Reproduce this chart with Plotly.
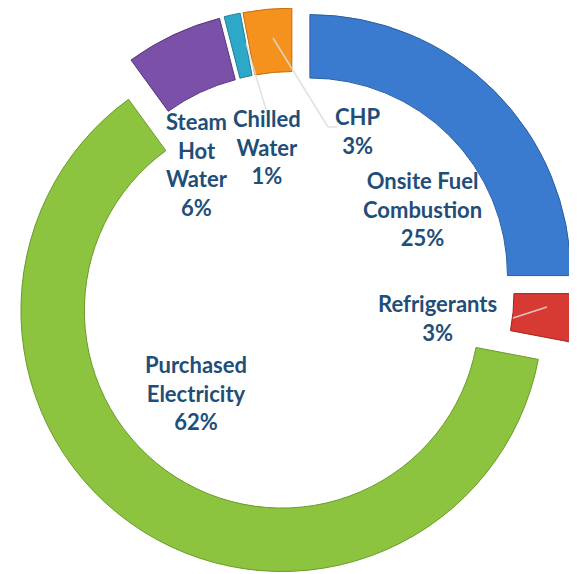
import plotly.graph_objects as go

categories = ["Onsite Fuel Combustion", "Refrigerants", "Purchased Electricity",
              "Steam Hot Water", "Chilled Water", "CHP"]
values = [25, 3, 62, 6, 1, 3]
label_texts = ["Onsite Fuel<br>Combustion<br>25%", "Refrigerants<br>3%",
               "Purchased<br>Electricity<br>62%", "Steam<br>Hot<br>Water<br>6%",
               "Chilled<br>Water<br>1%", "CHP<br>3%"]
colors = ["#3A7BD0", "#D63A33", "#8DC43F", "#7B50A8", "#2EA8C8", "#F5921E"]
edge_colors = ["#2A5EA0", "#A02620", "#6A9A28", "#583480", "#1E7E98", "#C06E10"]

W, H = 577, 574
OFF = 8  # page body margin in the browser
# label anchor positions (screen pixels)
label_px = [(422, 209), (437, 318), (196, 393), (197, 164), (267, 147), (358, 131)]
# faint leader lines (screen pixels)
leaders_px = [
    [(273, 38), (328, 127), (337, 127)],
    [(246, 43), (268, 116)],
    [(513, 318), (547, 307)],
]


def px(x, y):
    return (x - OFF) / W, 1 - (y - OFF) / H


fig = go.Figure(go.Pie(
    labels=categories,
    values=values,
    hole=0.757,
    sort=False,
    direction="clockwise",
    rotation=0,
    pull=[0.0862] * len(values),
    marker=dict(colors=colors, line=dict(color=edge_colors, width=1)),
    textinfo="none",
    hoverinfo="label+percent",
    showlegend=False,
    domain=dict(x=[0.0043, 0.9870], y=[0.0122, 1.0]),
))

for pts in leaders_px:
    for (x0, y0), (x1, y1) in zip(pts[:-1], pts[1:]):
        a0, b0 = px(x0, y0)
        a1, b1 = px(x1, y1)
        fig.add_shape(type="line", xref="paper", yref="paper",
                      x0=a0, y0=b0, x1=a1, y1=b1,
                      line=dict(color="rgba(220,220,220,0.85)", width=1.5))

for txt, (x, y) in zip(label_texts, label_px):
    a, b = px(x, y)
    fig.add_annotation(
        x=a, y=b, xref="paper", yref="paper", text=f"<b>{txt}</b>",
        showarrow=False, align="center", xanchor="center", yanchor="middle",
        font=dict(family="Lato, Open Sans, sans-serif", size=22, color="#1F4E79"),
    )

fig.update_layout(
    width=W, height=H,
    margin=dict(l=0, r=0, t=0, b=0),
    paper_bgcolor="white", plot_bgcolor="white",
)

fig.write_html("out.html")
